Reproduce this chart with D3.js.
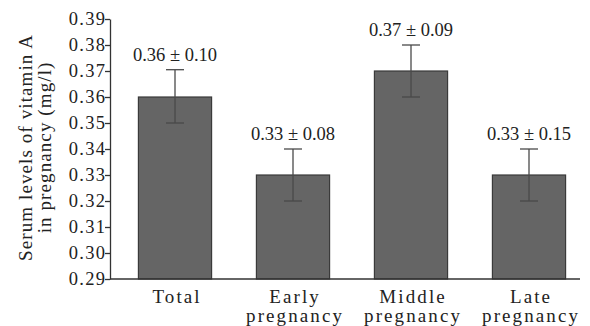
<!DOCTYPE html>
<html><head><meta charset="utf-8">
<script src="https://cdn.jsdelivr.net/npm/d3@7"></script>
<style>
body{margin:0;background:#fff}svg{display:block}
svg text, svg tspan { font-family: "Liberation Serif", "Times New Roman", Times, serif !important; }
</style>
</head><body>
<svg id="c" width="590" height="326" style="font-family: 'Liberation Serif'"></svg>
<script>
const categories = [["Total"], ["Early", "pregnancy"], ["Middle", "pregnancy"], ["Late", "pregnancy"]];
const means = [0.36, 0.33, 0.37, 0.33];
const errLow = [0.350, 0.320, 0.360, 0.320];
const errHigh = [0.3705, 0.340, 0.380, 0.340];
const labels = ["0.36 \u00b1 0.10", "0.33 \u00b1 0.08", "0.37 \u00b1 0.09", "0.33 \u00b1 0.15"];
const yTicks = [0.29, 0.30, 0.31, 0.32, 0.33, 0.34, 0.35, 0.36, 0.37, 0.38, 0.39];
const yTitle = ["Serum levels of vitamin A", "in pregnancy (mg/l)"];

const svg = d3.select("#c");
const serifFace = "Liberation Serif";
const y = d3.scaleLinear().domain([0.29, 0.39]).range([279, 19]);
const x = d3.scaleBand().domain(d3.range(categories.length)).range([116, 588]).paddingInner(0.38).paddingOuter(0.19);
const axisX0 = 110, axisX1 = 580;
const spacing = (s, n) => d3.range(n).map(k => k === 0 ? 0 : s).join(" ");

// bars
svg.selectAll("rect.bar").data(means).join("rect")
  .attr("x", (d,i) => x(i)).attr("width", x.bandwidth())
  .attr("y", d => y(d)).attr("height", d => y(0.29) - y(d))
  .attr("fill", "#656565").attr("stroke", "#3a3a3a").attr("stroke-width", 1.2);

// error bars
const g = svg.append("g").attr("stroke", "#4a4a4a").attr("stroke-width", 1.3);
means.forEach((m,i) => {
  const cx = x(i) + x.bandwidth()/2;
  g.append("line").attr("x1", cx).attr("x2", cx).attr("y1", y(errLow[i])).attr("y2", y(errHigh[i]));
  g.append("line").attr("x1", cx-9).attr("x2", cx+9).attr("y1", y(errLow[i])).attr("y2", y(errLow[i]));
  g.append("line").attr("x1", cx-9).attr("x2", cx+9).attr("y1", y(errHigh[i])).attr("y2", y(errHigh[i]));
});

// value labels
svg.selectAll("text.val").data(labels).join("text")
  .attr("x", (d,i) => x(i) + x.bandwidth()/2)
  .attr("y", (d,i) => y(errHigh[i]) - 9)
  .attr("text-anchor", "middle")
  .attr("font-family", serifFace).attr("font-size", 18.5).attr("fill", "#222")
  .text(d => d);

// y axis
const yAxis = d3.axisLeft(y).tickValues(yTicks).tickFormat(d3.format(".2f")).tickSize(5).tickSizeOuter(0);
const ya = svg.append("g").attr("transform", `translate(${axisX0},0)`).call(yAxis);
ya.attr("font-family", serifFace).attr("font-size", 18.5);
ya.select(".domain").attr("stroke", "#333").attr("stroke-width", 1.3);
ya.selectAll(".tick line").attr("stroke", "#333").attr("stroke-width", 1.3);
ya.selectAll(".tick text").attr("font-family", serifFace).attr("font-size", 18.5)
  .attr("fill", "#222").attr("x", -5).attr("dx", d => spacing(1.3, 4));

// x axis line
svg.append("line").attr("x1", axisX0).attr("x2", axisX1).attr("y1", y(0.29)).attr("y2", y(0.29))
  .attr("stroke", "#333").attr("stroke-width", 1.3);

// x labels
categories.forEach((lines, i) => {
  const t = svg.append("text").attr("text-anchor", "middle")
    .attr("font-family", serifFace).attr("font-size", 19).attr("fill", "#222");
  lines.forEach((l, j) => {
    t.append("tspan").attr("x", x(i) + x.bandwidth()/2 + 1).attr("y", 303 + j*19)
      .attr("dx", spacing(2.1, l.length)).text(l);
  });
});

// y title
const yt = svg.append("text").attr("transform", "translate(0,148) rotate(-90)")
  .attr("text-anchor", "middle")
  .attr("font-family", serifFace).attr("font-size", 19).attr("fill", "#222");
yTitle.forEach((l, j) => {
  yt.append("tspan").attr("x", 0).attr("y", 32 + j*19).attr("dx", spacing(1.1, l.length)).text(l);
});
</script>
</body></html>
